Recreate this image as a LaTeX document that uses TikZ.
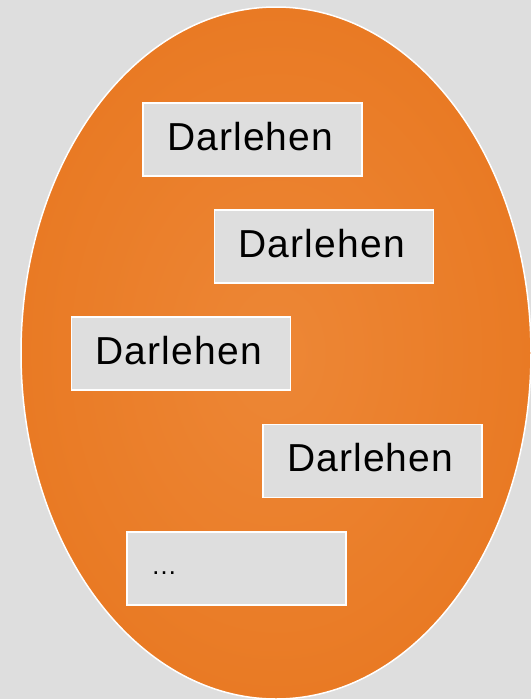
\documentclass[tikz,border=0pt]{standalone}
\usepackage{fontspec}
\setmainfont{Liberation Sans}
\newfontfamily\boxfont[LetterSpace=3]{Liberation Sans}
\definecolor{bgc}{HTML}{DEDEDE}
\definecolor{org}{HTML}{E97A24}
\definecolor{orgl}{HTML}{ED8736}
\definecolor{boxc}{HTML}{DEDEDE}
\begin{document}
\begin{tikzpicture}[x=1pt,y=-1pt,
  box/.style={draw=white, line width=1.5pt, fill=boxc, minimum width=219pt,
    inner xsep=24pt, inner ysep=0pt, text width=171pt, align=left,
    text height=47pt, text depth=26pt, font=\boxfont\fontsize{39}{47}\selectfont, text=black},
  dotbox/.style={box, text height=42pt, text depth=31pt, font=\fontsize{26}{30}\selectfont}]
\fill[bgc] (0,0) rectangle (531,699);
\useasboundingbox (0,0) rectangle (531,699);
\shade[inner color=orgl, outer color=org] (276,353) ellipse [x radius=255, y radius=346];
\draw[white, line width=1.5pt] (276,353) ellipse [x radius=255, y radius=346];
\node[box] (d1) at (252.5,139.5) {Darlehen};
\node[box] (d2) at (324,246.5) {Darlehen};
\node[box] (d3) at (181,353.5) {Darlehen};
\node[box] (d4) at (372.5,461) {Darlehen};
\node[dotbox] (d5) at (236.5,568.5) {\ldots};
\end{tikzpicture}
\end{document}
